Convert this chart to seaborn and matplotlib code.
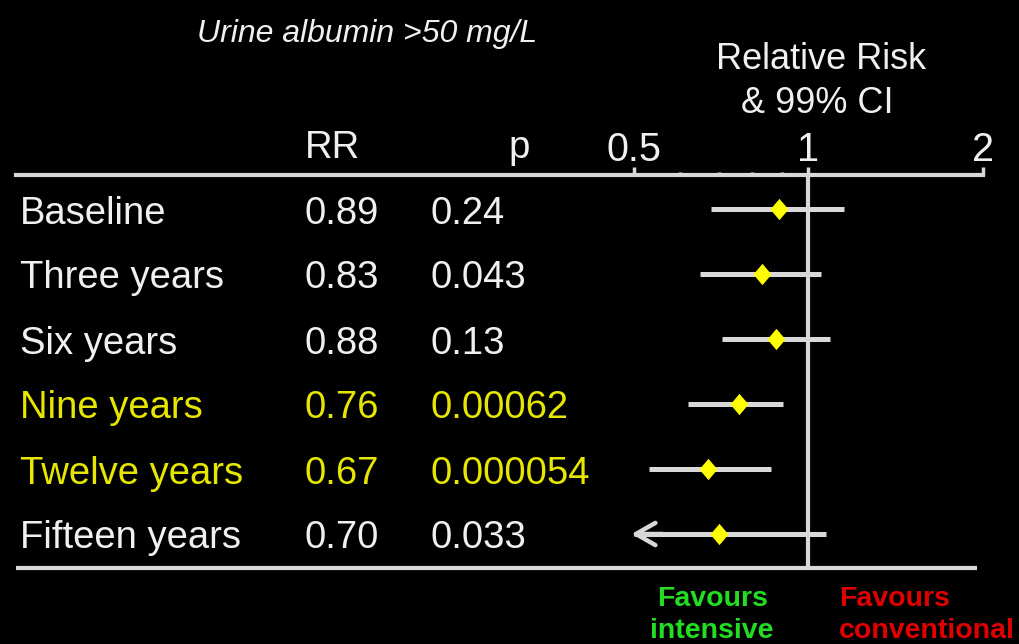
import numpy as np
import matplotlib
matplotlib.use("Agg")
import matplotlib.pyplot as plt
import matplotlib.transforms as mtransforms
from matplotlib.path import Path
from matplotlib.ticker import FixedLocator, FixedFormatter, NullFormatter
import seaborn as sns

# ---- data -------------------------------------------------------------
labels = ["Baseline", "Three years", "Six years", "Nine years",
          "Twelve years", "Fifteen years"]
rr = [0.89, 0.83, 0.88, 0.76, 0.67, 0.70]
rr_text = ["0.89", "0.83", "0.88", "0.76", "0.67", "0.70"]
p_text = ["0.24", "0.043", "0.13", "0.00062", "0.000054", "0.033"]
ci_low = [0.68, 0.65, 0.71, 0.62, 0.53, 0.50]
ci_high = [1.15, 1.05, 1.09, 0.905, 0.86, 1.07]
ci_truncated = [False, False, False, False, False, True]
highlight = [False, False, False, True, True, False]

major_ticks = [0.5, 1, 2]
major_tick_labels = ["0.5", "1", "2"]
minor_ticks = [0.6, 0.7, 0.8, 0.9]

title = "Urine albumin >50 mg/L"
axis_title = ["Relative Risk", "& 99% CI"]

# ---- style ------------------------------------------------------------
sns.set_theme(style="dark")
plt.rcParams["font.family"] = ["Liberation Sans", "DejaVu Sans"]

BG = "black"
WHITE = "#f0f0f0"
LINE = "#d8d8d8"
YELLOW_TXT = "#e6e600"
DIAMOND = "#ffff00"
GREEN = "#22dd22"
RED = "#e00000"

W, H = 1019, 644
fig = plt.figure(figsize=(W / 100, H / 100), dpi=100, facecolor=BG)
ax = fig.add_axes([0, 0, 1, 1], facecolor=BG)

# log-2 scale: 1.0 sits at x=808.5 px, one doubling spans 174.5 px
x_one, x_oct = 808.5, 174.5
ax.set_xscale("log", base=2)
ax.set_xlim(2 ** ((0 - x_one) / x_oct), 2 ** ((W - x_one) / x_oct))

# rows: row 0 centred at y=209 px, 65 px per row (y grows downward)
y0, dy = 209, 65
ax.set_ylim((H - y0) / dy, (0 - y0) / dy)

def ypx(p):
    return (p - y0) / dy

def xpx(p):
    return 2 ** ((p - x_one) / x_oct)

rows = np.arange(len(labels))
axis_y = ypx(175)
bottom_y = ypx(568)

# ---- axis -------------------------------------------------------------
for side in ["left", "right", "bottom"]:
    ax.spines[side].set_visible(False)
top = ax.spines["top"]
top.set_visible(True)
top.set_position(("data", axis_y))
top.set_bounds(xpx(16), 2)
top.set_color(LINE)
top.set_linewidth(3)
ax.grid(False)
ax.set_yticks([])
ax.xaxis.set_ticks_position("top")
ax.xaxis.set_major_locator(FixedLocator(major_ticks))
ax.xaxis.set_major_formatter(FixedFormatter(major_tick_labels))
ax.xaxis.set_minor_locator(FixedLocator(minor_ticks))
ax.xaxis.set_minor_formatter(NullFormatter())
ax.tick_params(axis="x", which="major", direction="out", length=6, width=2.5,
               color=LINE, labelcolor=WHITE, labelsize=28.5, pad=-2,
               top=True, bottom=False, labeltop=True, labelbottom=False)
ax.tick_params(axis="x", which="minor", direction="out", length=2.5, width=2.5,
               color=LINE, top=True, bottom=False)

# reference line at RR = 1 and bottom rule
ax.vlines(1, axis_y, bottom_y, color=LINE, lw=3, zorder=2)
ax.hlines(bottom_y, xpx(16), xpx(977), color=LINE, lw=3, zorder=2)

# ---- confidence intervals and point estimates -------------------------
for i in rows:
    ax.hlines(i, ci_low[i], ci_high[i], color=LINE, lw=3.6, zorder=2)
    if ci_truncated[i]:
        ax.annotate("", xy=(ci_low[i] * 0.99, i), xytext=(ci_low[i] * 1.12, i),
                    arrowprops=dict(arrowstyle="->,head_length=0.7,head_width=0.4",
                                    lw=3.2, color=LINE, mutation_scale=20,
                                    shrinkA=0, shrinkB=0),
                    zorder=2)

diamond = Path([(0, 1), (0.85, 0), (0, -1), (-0.85, 0), (0, 1)],
               [Path.MOVETO, Path.LINETO, Path.LINETO, Path.LINETO, Path.CLOSEPOLY])
sns.scatterplot(x=rr, y=rows, marker=diamond, s=235, color=DIAMOND,
                linewidth=0, ax=ax, zorder=4, legend=False)

# ---- table text -------------------------------------------------------
tr = mtransforms.blended_transform_factory(ax.transAxes, ax.transData)
fs = 27.5
base_off = 14.5 / dy
for i in rows:
    c = YELLOW_TXT if highlight[i] else WHITE
    ax.text(20 / W, i + base_off, labels[i], transform=tr, color=c,
            fontsize=fs, va="baseline", ha="left")
    ax.text(305 / W, i + base_off, rr_text[i], transform=tr, color=c,
            fontsize=fs, va="baseline", ha="left")
    ax.text(430 / W, i + base_off, p_text[i], transform=tr, color=c,
            fontsize=fs, va="baseline", ha="left")

ax.text(305 / W, ypx(158), "RR", transform=tr, color=WHITE, fontsize=fs,
        va="baseline", ha="left")
ax.text(508 / W, ypx(158), "p", transform=tr, color=WHITE, fontsize=fs,
        va="baseline", ha="left")

ax.text(197 / W, ypx(42), title, transform=tr, color=WHITE, fontsize=23,
        style="italic", va="baseline", ha="left")
ax.text(821 / W, ypx(69), axis_title[0], transform=tr, color=WHITE,
        fontsize=26, va="baseline", ha="center")
ax.text(817 / W, ypx(113), axis_title[1], transform=tr, color=WHITE,
        fontsize=26, va="baseline", ha="center")

# ---- direction labels -------------------------------------------------
fav = 20.5
ax.text(713 / W, ypx(606), "Favours", transform=tr, color=GREEN, fontsize=fav,
        fontweight="bold", va="baseline", ha="center")
ax.text(712 / W, ypx(638), "intensive", transform=tr, color=GREEN, fontsize=fav,
        fontweight="bold", va="baseline", ha="center")
ax.text(839 / W, ypx(606), "Favours", transform=tr, color=RED, fontsize=fav,
        fontweight="bold", va="baseline", ha="left")
ax.text(839 / W, ypx(638), "conventional", transform=tr, color=RED, fontsize=fav,
        fontweight="bold", va="baseline", ha="left")

fig.savefig("out.png", dpi=100, facecolor=BG)
